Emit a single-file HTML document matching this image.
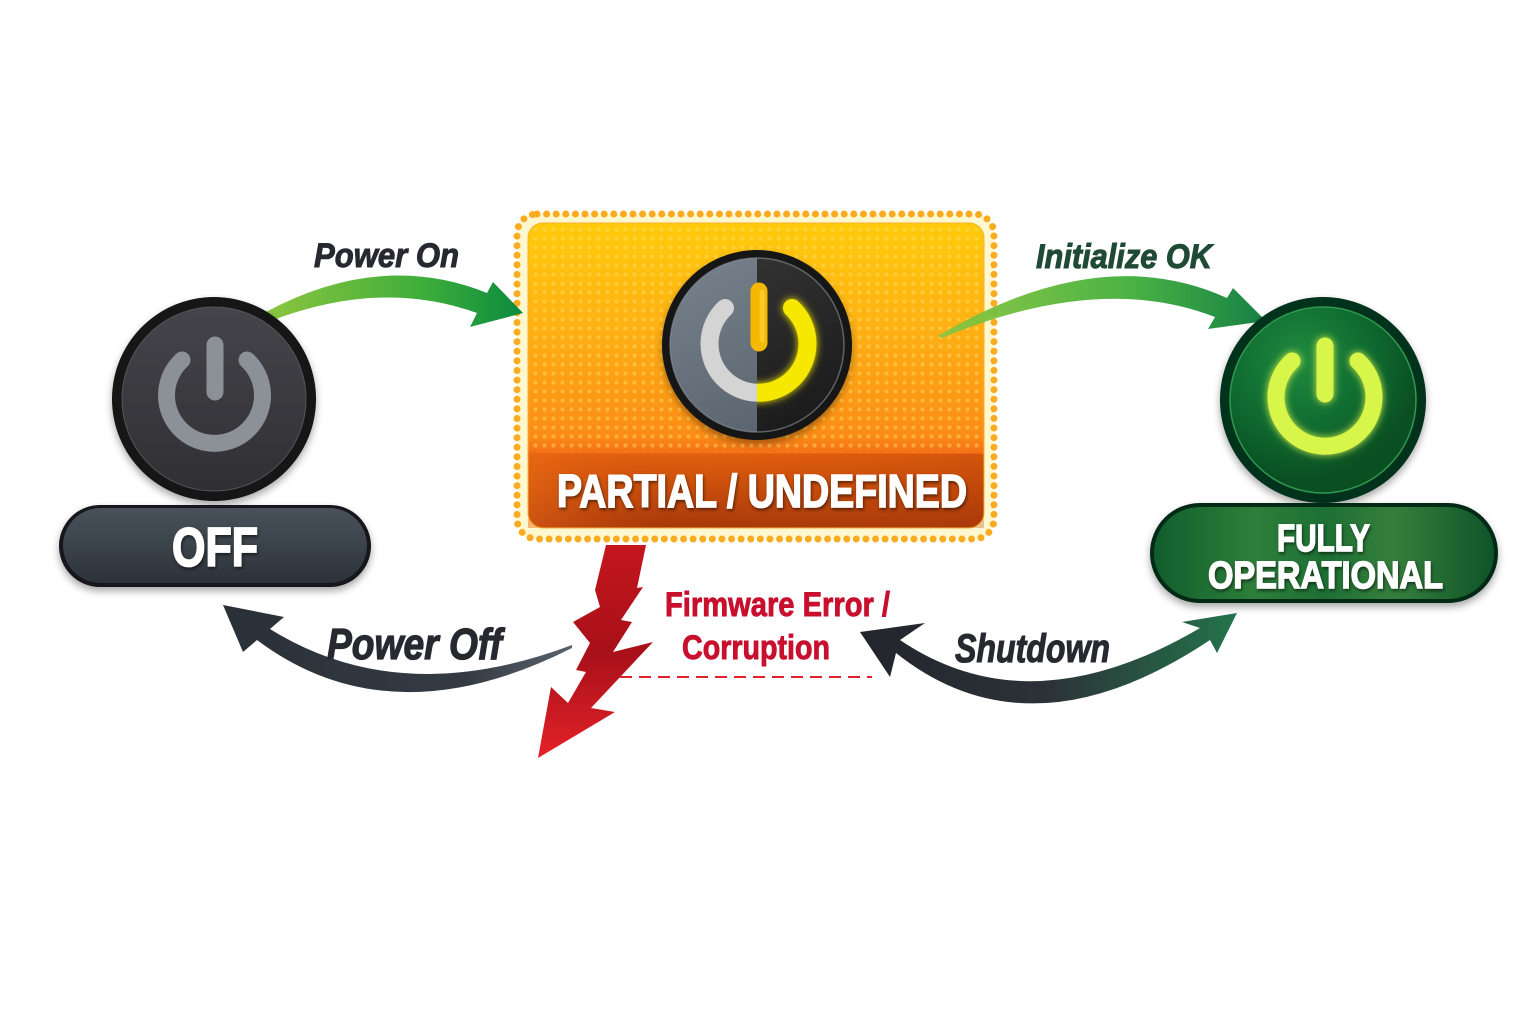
<!DOCTYPE html>
<html>
<head>
<meta charset="utf-8">
<style>
  html,body{margin:0;padding:0;background:#ffffff;}
  body{width:1536px;height:1024px;overflow:hidden;}
  svg{display:block;}
  text{font-family:"Liberation Sans", sans-serif;font-weight:bold;}
</style>
</head>
<body>
<svg width="1536" height="1024" viewBox="0 0 1536 1024" xmlns="http://www.w3.org/2000/svg">
  <defs>
    <linearGradient id="gOn" x1="265" y1="0" x2="525" y2="0" gradientUnits="userSpaceOnUse">
      <stop offset="0" stop-color="#8cc63f"/>
      <stop offset="0.6" stop-color="#3fae3a"/>
      <stop offset="1" stop-color="#0a8a3e"/>
    </linearGradient>
    <linearGradient id="gInit" x1="938" y1="0" x2="1265" y2="0" gradientUnits="userSpaceOnUse">
      <stop offset="0" stop-color="#8cc63f"/>
      <stop offset="0.6" stop-color="#3fae3a"/>
      <stop offset="1" stop-color="#0a7a3c"/>
    </linearGradient>
    <linearGradient id="gOff" x1="223" y1="0" x2="572" y2="0" gradientUnits="userSpaceOnUse">
      <stop offset="0" stop-color="#2a3038"/>
      <stop offset="0.7" stop-color="#343b44"/>
      <stop offset="1" stop-color="#5a636c"/>
    </linearGradient>
    <linearGradient id="gShut" x1="860" y1="0" x2="1237" y2="0" gradientUnits="userSpaceOnUse">
      <stop offset="0" stop-color="#22262c"/>
      <stop offset="0.5" stop-color="#2c3238"/>
      <stop offset="1" stop-color="#23744a"/>
    </linearGradient>
    <linearGradient id="gBolt" x1="0" y1="545" x2="0" y2="758" gradientUnits="userSpaceOnUse">
      <stop offset="0" stop-color="#c4161c"/>
      <stop offset="0.5" stop-color="#a8101a"/>
      <stop offset="1" stop-color="#e32228"/>
    </linearGradient>
    <linearGradient id="gBox" x1="0" y1="223" x2="0" y2="527" gradientUnits="userSpaceOnUse">
      <stop offset="0" stop-color="#ffcb0c"/>
      <stop offset="0.35" stop-color="#ffb014"/>
      <stop offset="0.7" stop-color="#fb8c16"/>
      <stop offset="0.755" stop-color="#f57016"/>
      <stop offset="0.76" stop-color="#e2600e"/>
      <stop offset="1" stop-color="#a8380a"/>
    </linearGradient>
    <linearGradient id="gBand" x1="528" y1="0" x2="984" y2="0" gradientUnits="userSpaceOnUse">
      <stop offset="0" stop-color="#f07018" stop-opacity="0.5"/>
      <stop offset="0.3" stop-color="#d2500c" stop-opacity="0"/>
      <stop offset="1" stop-color="#b03a08" stop-opacity="0.3"/>
    </linearGradient>
    <pattern id="dots" x="0" y="0" width="9" height="9" patternUnits="userSpaceOnUse">
      <circle cx="4.5" cy="4.5" r="2" fill="#ffe070" opacity="0.45"/>
    </pattern>
    <linearGradient id="gOffFace" x1="0" y1="300" x2="0" y2="500" gradientUnits="userSpaceOnUse">
      <stop offset="0" stop-color="#46454b"/>
      <stop offset="1" stop-color="#2e2e33"/>
    </linearGradient>
    <linearGradient id="gOffPill" x1="0" y1="505" x2="0" y2="588" gradientUnits="userSpaceOnUse">
      <stop offset="0" stop-color="#4a535c"/>
      <stop offset="0.5" stop-color="#3a424a"/>
      <stop offset="1" stop-color="#2a3036"/>
    </linearGradient>
    <radialGradient id="gGreenFace" cx="1300" cy="360" r="120" gradientUnits="userSpaceOnUse">
      <stop offset="0" stop-color="#1f8a3e"/>
      <stop offset="0.6" stop-color="#0f6a30"/>
      <stop offset="1" stop-color="#0a4f22"/>
    </radialGradient>
    <linearGradient id="gGreenPill" x1="1150" y1="0" x2="1498" y2="0" gradientUnits="userSpaceOnUse">
      <stop offset="0" stop-color="#0f5c2c"/>
      <stop offset="0.3" stop-color="#2e7f3a"/>
      <stop offset="0.5" stop-color="#1d6f34"/>
      <stop offset="0.7" stop-color="#357f3c"/>
      <stop offset="1" stop-color="#0d5228"/>
    </linearGradient>
    <linearGradient id="gLeftHalf" x1="662" y1="250" x2="757" y2="440" gradientUnits="userSpaceOnUse">
      <stop offset="0" stop-color="#7a848e"/>
      <stop offset="1" stop-color="#5a646e"/>
    </linearGradient>
    <linearGradient id="gRightHalf" x1="757" y1="250" x2="853" y2="440" gradientUnits="userSpaceOnUse">
      <stop offset="0" stop-color="#333333"/>
      <stop offset="1" stop-color="#161616"/>
    </linearGradient>
    <clipPath id="clipL"><rect x="600" y="240" width="157" height="210"/></clipPath>
    <clipPath id="clipR"><rect x="757" y="240" width="120" height="210"/></clipPath>
    <filter id="sh" x="-20%" y="-20%" width="140%" height="150%">
      <feDropShadow dx="0" dy="4" stdDeviation="4" flood-color="#000" flood-opacity="0.35"/>
    </filter>
    <filter id="tsh" x="-10%" y="-20%" width="120%" height="150%">
      <feDropShadow dx="1" dy="2" stdDeviation="1.5" flood-color="#000" flood-opacity="0.55"/>
    </filter>
    <filter id="glow" x="-30%" y="-30%" width="160%" height="160%">
      <feGaussianBlur stdDeviation="4" result="b"/>
      <feMerge><feMergeNode in="b"/><feMergeNode in="SourceGraphic"/></feMerge>
    </filter>
  </defs>

  <!-- ============ PARTIAL / UNDEFINED box ============ -->
  <rect x="517" y="214" width="477" height="325" rx="20" fill="#fff7cf"/>
  <rect x="517" y="214" width="477" height="325" rx="20" fill="none" stroke="#fbab1f" stroke-width="7" stroke-linecap="round" stroke-dasharray="0 9.6"/>
  <rect x="528" y="223" width="456" height="305" rx="15" fill="url(#gBox)"/>
  <rect x="528" y="223" width="456" height="230" rx="15" fill="url(#dots)"/>
  <rect x="528" y="454" width="456" height="74" fill="url(#gBand)"/>
  <rect x="528" y="223" width="456" height="305" rx="15" fill="none" stroke="#f7b030" stroke-width="1"/>

  <!-- ============ Arrows ============ -->
  <!-- Power On -->
  <path d="M264,313 Q380,250 487,293 L493,282 L523,313 L470,327 L477,313 Q380,278 268,322 Z" fill="url(#gOn)"/>
  <!-- Initialize OK -->
  <path d="M938,336 Q1100,240 1227,298 L1233,288 L1266,321 L1208,329 L1215,317 Q1100,272 942,338 Z" fill="url(#gInit)" opacity="0.95"/>
  <!-- Power Off -->
  <path d="M572,645 Q400,710 270,629 L284,617 L223,605 L243,652 L257,640 Q390,740 572,648 Z" fill="url(#gOff)"/>
  <!-- Shutdown (double-headed) -->
  <path d="M900,640 L925,623 L860,632 L890,677 L896,653 Q1030,760 1210,640 L1217,653 L1237,613 L1182,622 L1200,628 Q1030,728 900,640 Z" fill="url(#gShut)"/>

  <!-- ============ Lightning bolt ============ -->
  <polygon points="606,545 646,545 637,588 643,587 621,620 632,622 613,652 653,642 591,708 615,712 538,758 551,687 568,703 586,672 576,670 590,643 573,622 600,607 595,590" fill="url(#gBolt)"/>
  <line x1="620" y1="677" x2="872" y2="677" stroke="#e0202a" stroke-width="2" stroke-dasharray="12 7"/>

  <!-- ============ OFF node ============ -->
  <g filter="url(#sh)">
    <circle cx="214" cy="399" r="102" fill="#121212"/>
  </g>
  <circle cx="214" cy="399" r="92" fill="url(#gOffFace)" stroke="#55555a" stroke-width="1"/>
  <path d="M182,360 A48,48 0 1 0 247,360" fill="none" stroke="#8b9196" stroke-width="17" stroke-linecap="round"/>
  <line x1="215" y1="345" x2="215" y2="392" stroke="#8b9196" stroke-width="17" stroke-linecap="round"/>

  <g filter="url(#sh)">
    <rect x="59" y="505" width="312" height="82" rx="41" fill="#15181b"/>
  </g>
  <rect x="63" y="508" width="304" height="75" rx="37.5" fill="url(#gOffPill)"/>
  <text x="172" y="566" font-size="55" fill="#ffffff" stroke="#ffffff" stroke-width="1.8" textLength="86" lengthAdjust="spacingAndGlyphs" filter="url(#tsh)">OFF</text>

  <!-- ============ Partial power button ============ -->
  <g filter="url(#sh)">
    <circle cx="757" cy="345" r="95" fill="#141414"/>
  </g>
  <circle cx="757" cy="345" r="87" fill="url(#gLeftHalf)" clip-path="url(#clipL)"/>
  <circle cx="757" cy="345" r="87" fill="url(#gRightHalf)" clip-path="url(#clipR)"/>
  <circle cx="757" cy="345" r="87" fill="none" stroke="#8a939c" stroke-width="1.5" opacity="0.6"/>
  <g clip-path="url(#clipL)">
    <path d="M725,308 A49,49 0 1 0 792,308" fill="none" stroke="#d4d4d4" stroke-width="18" stroke-linecap="round"/>
  </g>
  <g clip-path="url(#clipR)" filter="url(#glow)">
    <path d="M725,308 A49,49 0 1 0 792,308" fill="none" stroke="#f6e800" stroke-width="18" stroke-linecap="round"/>
  </g>
  <line x1="759" y1="291" x2="759" y2="343" stroke="#f5b800" stroke-width="17" stroke-linecap="round"/>
  <line x1="762" y1="292" x2="762" y2="340" stroke="#ffd23a" stroke-width="5" stroke-linecap="round" opacity="0.7"/>

  <text x="557" y="507" font-size="46" fill="#ffffff" stroke="#ffffff" stroke-width="1.5" textLength="410" lengthAdjust="spacingAndGlyphs" filter="url(#tsh)">PARTIAL / UNDEFINED</text>

  <!-- ============ FULLY OPERATIONAL node ============ -->
  <g filter="url(#sh)">
    <circle cx="1323" cy="400" r="103" fill="#06301a"/>
  </g>
  <circle cx="1323" cy="400" r="93" fill="url(#gGreenFace)" stroke="#2f9a4e" stroke-width="1.5"/>
  <g filter="url(#glow)">
    <path d="M1292,361 A49,49 0 1 0 1358,361" fill="none" stroke="#d8f548" stroke-width="17" stroke-linecap="round"/>
    <line x1="1325" y1="346" x2="1325" y2="394" stroke="#d8f548" stroke-width="17" stroke-linecap="round"/>
  </g>

  <g filter="url(#sh)">
    <rect x="1150" y="503" width="348" height="100" rx="50" fill="#062a14"/>
  </g>
  <rect x="1154" y="507" width="340" height="92" rx="46" fill="url(#gGreenPill)"/>
  <text x="1277" y="551" font-size="38" fill="#ffffff" stroke="#ffffff" stroke-width="1.4" textLength="93" lengthAdjust="spacingAndGlyphs" filter="url(#tsh)">FULLY</text>
  <text x="1208" y="588" font-size="38" fill="#ffffff" stroke="#ffffff" stroke-width="1.4" textLength="235" lengthAdjust="spacingAndGlyphs" filter="url(#tsh)">OPERATIONAL</text>

  <!-- ============ Labels ============ -->
  <text x="314" y="267" font-size="34" font-style="italic" fill="#262a30" stroke="#262a30" stroke-width="1" textLength="145" lengthAdjust="spacingAndGlyphs">Power On</text>
  <text x="1036" y="268" font-size="34" font-style="italic" fill="#1f4a36" stroke="#1f4a36" stroke-width="1" textLength="176" lengthAdjust="spacingAndGlyphs">Initialize OK</text>
  <text x="327" y="659" font-size="44" font-style="italic" fill="#262a30" stroke="#262a30" stroke-width="1.2" textLength="175" lengthAdjust="spacingAndGlyphs">Power Off</text>
  <text x="955" y="662" font-size="40" font-style="italic" fill="#262a30" stroke="#262a30" stroke-width="1.1" textLength="155" lengthAdjust="spacingAndGlyphs">Shutdown</text>
  <text x="665" y="616" font-size="34" fill="#c8102e" stroke="#c8102e" stroke-width="0.9" textLength="225" lengthAdjust="spacingAndGlyphs">Firmware Error /</text>
  <text x="682" y="659" font-size="34" fill="#c8102e" stroke="#c8102e" stroke-width="0.9" textLength="148" lengthAdjust="spacingAndGlyphs">Corruption</text>
</svg>
</body>
</html>
